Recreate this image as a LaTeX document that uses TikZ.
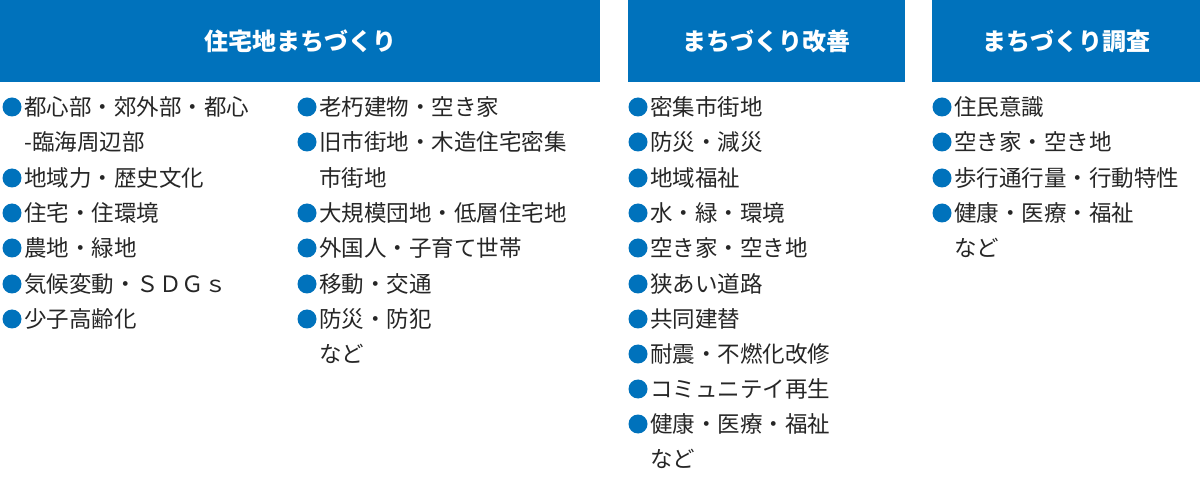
\documentclass[tikz,border=0pt]{standalone}
\usepackage{fontspec}
\setmainfont{Noto Sans CJK JP}
\definecolor{hb}{HTML}{0072BC}
\tikzset{hdr/.style={fill=hb,draw=none},
 ht/.style={text=white,font=\fontsize{24}{28}\selectfont\bfseries},
 it/.style={anchor=west,inner sep=0,font=\fontsize{22.5}{26}\selectfont,text=black!85},
 bl/.style={fill=hb}}
\newcommand{\itm}[4]{\fill[bl] (#1+10,#2) circle (9.5);\node[it] (#4) at (#1+22,#2) {#3};}
\newcommand{\cnt}[4]{\node[it] (#4) at (#1+22,#2) {#3};}
\begin{document}
\begin{tikzpicture}[x=1pt,y=-1pt]
\useasboundingbox (0,0) rectangle (1200,494);
\fill[hdr] (0,0) rectangle (600,82); \node[ht] (h1) at (300,41) {住宅地まちづくり};
\fill[hdr] (628,0) rectangle (905,82); \node[ht] (h2) at (766,41) {まちづくり改善};
\fill[hdr] (932,0) rectangle (1200,82); \node[ht] (h3) at (1066,41) {まちづくり調査};
% column 1
\itm{2}{107}{都心部・郊外部・都心}{a1}
\cnt{2}{142}{-臨海周辺部}{a2}
\itm{2}{178}{地域力・歴史文化}{a3}
\itm{2}{213}{住宅・住環境}{a4}
\itm{2}{248}{農地・緑地}{a5}
\itm{2}{284}{気候変動・ＳＤＧｓ}{a6}
\itm{2}{319}{少子高齢化}{a7}
% column 2
\itm{297}{107}{老朽建物・空き家}{b1}
\itm{297}{142}{旧市街地・木造住宅密集}{b2}
\cnt{297}{178}{市街地}{b3}
\itm{297}{213}{大規模団地・低層住宅地}{b4}
\itm{297}{248}{外国人・子育て世帯}{b5}
\itm{297}{284}{移動・交通}{b6}
\itm{297}{319}{防災・防犯}{b7}
\cnt{297}{354}{など}{b8}
% column 3
\itm{628}{107}{密集市街地}{c1}
\itm{628}{142}{防災・減災}{c2}
\itm{628}{178}{地域福祉}{c3}
\itm{628}{213}{水・緑・環境}{c4}
\itm{628}{248}{空き家・空き地}{c5}
\itm{628}{284}{狭あい道路}{c6}
\itm{628}{319}{共同建替}{c7}
\itm{628}{354}{耐震・不燃化改修}{c8}
\itm{628}{389}{コミュニテイ再生}{c9}
\itm{628}{424}{健康・医療・福祉}{c10}
\cnt{628}{459}{など}{c11}
% column 4
\itm{932}{107}{住民意識}{d1}
\itm{932}{142}{空き家・空き地}{d2}
\itm{932}{178}{歩行通行量・行動特性}{d3}
\itm{932}{213}{健康・医療・福祉}{d4}
\cnt{932}{248}{など}{d5}
\end{tikzpicture}
\end{document}
